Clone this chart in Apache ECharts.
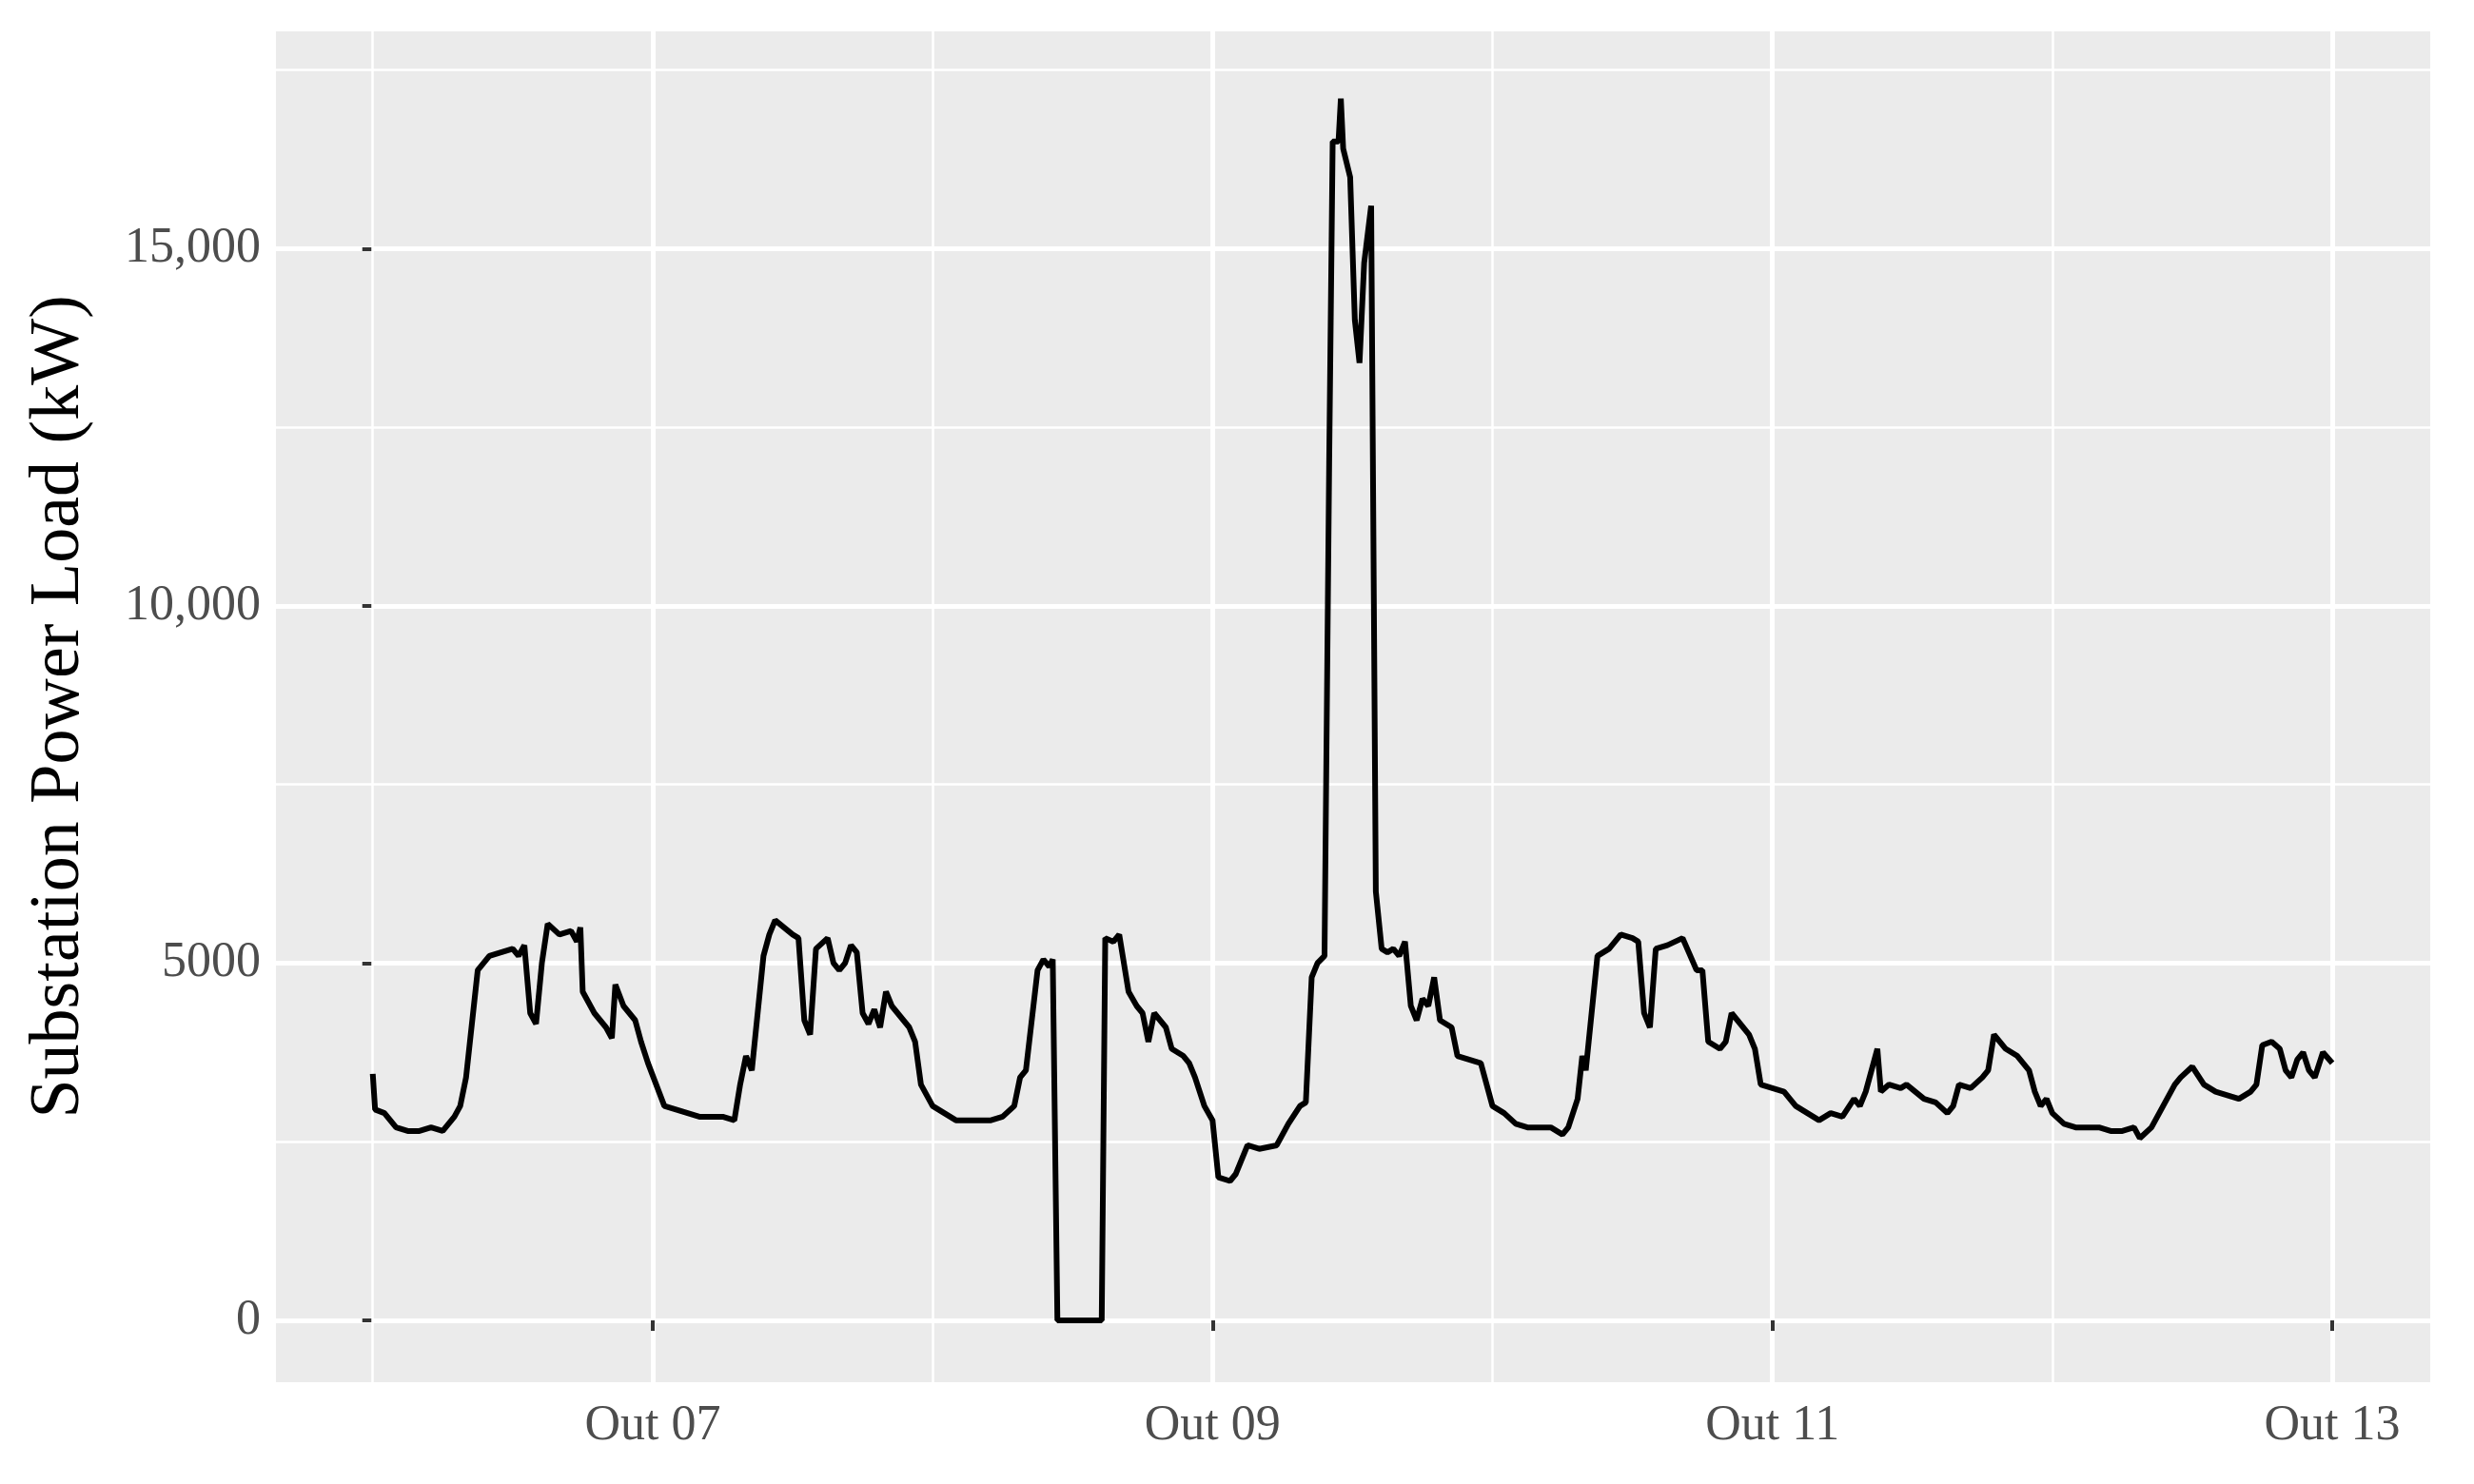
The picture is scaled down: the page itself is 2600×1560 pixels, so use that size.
<!DOCTYPE html><html><head><meta charset="utf-8">
<script src="https://cdn.jsdelivr.net/npm/echarts@6/dist/echarts.min.js"></script>
<style>html,body{margin:0;padding:0;background:#fff}#c{width:2600px;height:1560px}</style></head>
<body><div id="c"></div><script>
// hours since Oct 06 00:00
const hours = [
0,0.2,1,2,3,4,5,6,7,7.5,8,9,10,11,12,12.5,13,13.5,14,14.5,15,16,17,17.5,17.8,18,19,20,20.5,20.8,21.5,22.5,23,23.6,24.3,
25,26,27,28,29,30,31,31.5,32,32.5,33.5,34,34.5,36,36.5,37,37.5,38,39,39.5,40,40.5,41,41.5,42,42.5,43,43.5,44,44.5,45.5,46,46.5,47,48,
49,50,51,52,53,54,55,55.5,56,57,57.5,58,58.3,58.7,62.5,62.8,63.5,64,64.8,65.5,66,66.5,67,68,68.5,69.5,70,70.5,71.3,72,
72.5,73.5,74,75,76,77.5,78.5,79.5,80,80.5,81,81.6,82,82.3,82.8,83,83.2,83.8,84.2,84.6,85,85.6,86,86.5,87,87.5,88,88.5,89,89.5,90,90.5,91,91.5,92.5,93,94,95,96,
97,98,99,100,101,102,102.5,103.3,103.7,104,105,106,107,108,108.5,109,109.5,110,111,112.3,113.5,114,114.5,115.5,116,116.5,117,118,118.5,119,120,
121,122,123,124,125,126,127,127.5,128,129,129.3,130,131,131.5,133,134,135,135.5,136,137,138,138.5,139,140,141,142,142.5,143,143.5,144,
145,146,148,149,150,151,151.5,152.5,153.5,154.5,155,156,157,158,159,160,161,161.5,162,162.8,163.5,164,164.5,165,165.5,166,166.5,167.2,168
];
const load = [
3450,2950,2900,2700,2650,2650,2700,2650,2850,3000,3400,4900,5100,5150,5200,5100,5250,4300,4150,5000,5550,5400,5450,5300,5500,4600,4300,4100,3950,4700,4400,4200,3900,3600,3300,
3000,2950,2900,2850,2850,2850,2800,3300,3700,3500,5100,5400,5600,5400,5350,4200,4000,5200,5350,5000,4900,5000,5250,5150,4300,4150,4350,4100,4600,4400,4200,4100,3900,3300,3000,
2900,2800,2800,2800,2800,2850,3000,3400,3500,4900,5050,4950,5050,0,0,5350,5300,5400,4600,4400,4300,3900,4300,4100,3800,3700,3600,3400,3000,2800,
2000,1950,2050,2450,2400,2450,2750,3000,3050,4800,5000,5100,12000,16500,16500,17100,16400,16000,14000,13400,14800,15600,6000,5200,5150,5200,5100,5300,4400,4200,4500,4400,4800,4200,4100,3700,3650,3600,3000,
2900,2750,2700,2700,2700,2600,2700,3100,3700,3500,5100,5200,5400,5350,5300,4300,4100,5200,5250,5350,4900,4900,3900,3800,3900,4300,4200,4000,3800,3300,3250,
3200,3000,2900,2800,2900,2850,3100,3000,3200,3800,3200,3300,3250,3300,3100,3050,2900,3000,3300,3250,3400,3500,4000,3800,3700,3500,3200,3000,3100,2900,
2750,2700,2700,2650,2650,2700,2550,2700,3000,3300,3400,3550,3300,3200,3150,3100,3200,3300,3850,3900,3800,3500,3400,3650,3750,3500,3400,3750,3600
];
const majorX = [24,72,120,168];
const minorX = [0,48,96,144];
const xLabels = ['Out 07','Out 09','Out 11','Out 13'];
const majorY = [0,5000,10000,15000];
const minorY = [2500,7500,12500,17500];
const yLabels = ['0','5000','10,000','15,000'];

const data = hours.map((h,i)=>[h,load[i]]);
const chart = echarts.init(document.getElementById('c'));
const font = 'Liberation Serif';
chart.setOption({
  backgroundColor:'#fff',
  animation:false,
  grid:{left:290,right:46,top:33,bottom:107,show:true,backgroundColor:'#ebebeb',borderWidth:0},
  xAxis:{type:'value',min:-8.3,max:176.4,
    axisLine:{show:false},
    axisTick:{show:true,length:11,lineStyle:{color:'#333',width:4},customValues:majorX},
    axisLabel:{customValues:majorX,formatter:v=>xLabels[majorX.indexOf(Math.round(v))]||'',fontFamily:font,fontSize:52,color:'#4d4d4d',margin:20},
    splitLine:{show:true,lineStyle:{color:'#fff',width:5}}},
  yAxis:{type:'value',min:-866,max:18040,
    name:'Substation Power Load (kW)',nameLocation:'middle',nameGap:190,nameTextStyle:{fontFamily:font,fontSize:74,color:'#000'},
    axisLine:{show:false},
    axisTick:{show:true,length:11,lineStyle:{color:'#333',width:4},customValues:majorY},
    axisLabel:{customValues:majorY,formatter:v=>yLabels[majorY.indexOf(Math.round(v))]||'',fontFamily:font,fontSize:52,color:'#4d4d4d',margin:16},
    splitLine:{show:true,lineStyle:{color:'#fff',width:5}}},
  series:[{type:'line',data:data,showSymbol:false,lineStyle:{color:'#000',width:6},z:5,
    markLine:{silent:true,symbol:'none',label:{show:false},lineStyle:{color:'#fff',width:2.5,type:'solid'},z:1,
      data:minorX.map(x=>({xAxis:x})).concat(minorY.map(y=>({yAxis:y})))}}]
});
</script></body></html>
